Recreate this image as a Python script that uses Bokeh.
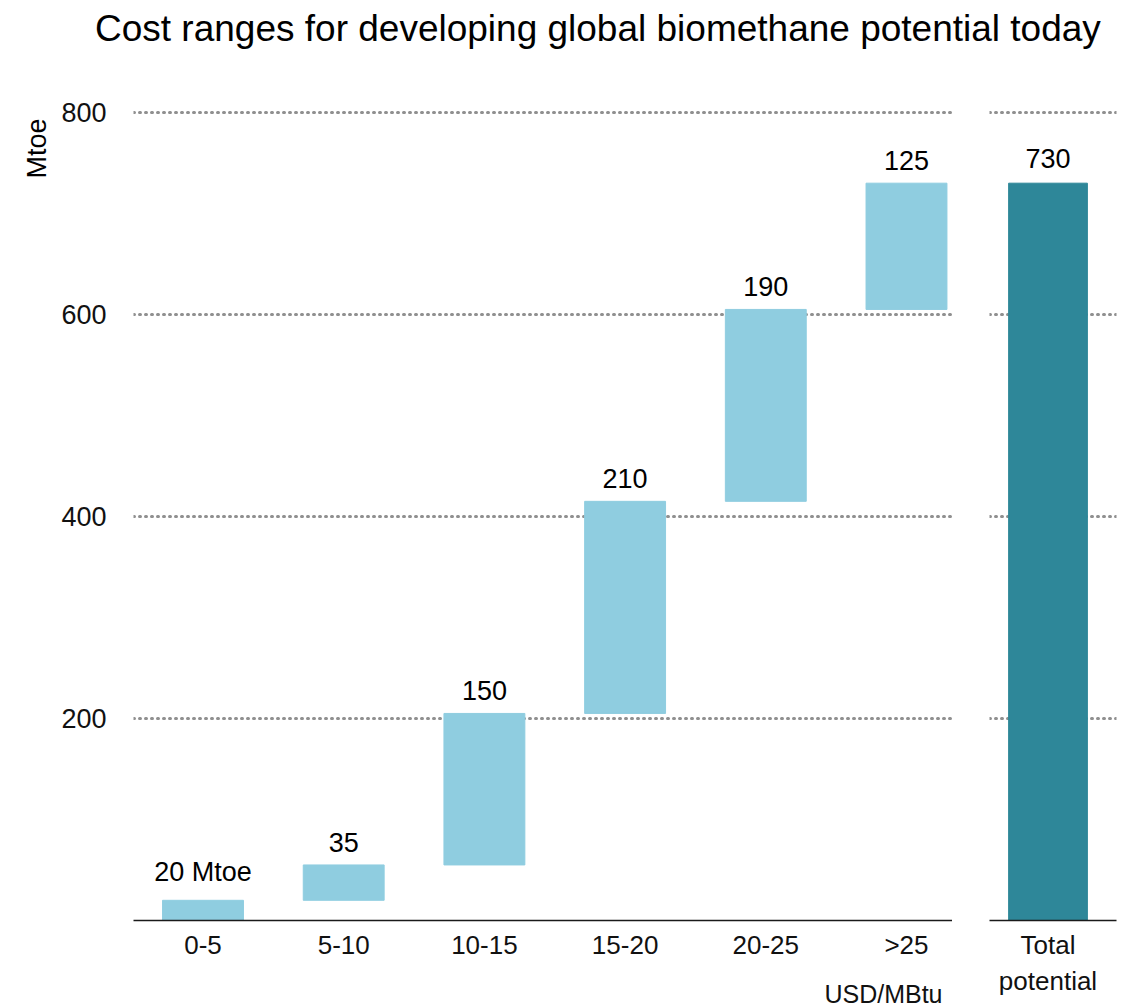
import numpy as np
from bokeh.plotting import figure
from bokeh.models import Range1d, FixedTicker, Title, Div, ColumnDataSource
from bokeh.layouts import row, column
from bokeh.core.properties import value
from bokeh.embed import file_html
from bokeh.resources import INLINE

# ---- data ----
categories = ["0-5", "5-10", "10-15", "15-20", "20-25", ">25"]
values = [20, 35, 150, 210, 190, 125]
value_labels = ["20 Mtoe", "35", "150", "210", "190", "125"]
total_category = "Total\npotential"
total_value = 730
y_ticks = [200, 400, 600, 800]
x_unit = "USD/MBtu"
y_unit = "Mtoe"
title_text = "Cost ranges for developing global biomethane potential today"

# ---- style ----
FONT = "Liberation Sans"
LIGHT = "#8fcde0"
DARK = "#2e8799"
GRID = "#909090"
YMAX = 817.8

tops = np.cumsum(values)
bottoms = tops - np.array(values)
xs = list(range(len(categories)))
src = ColumnDataSource(dict(x=xs, bottom=bottoms, top=tops, label=value_labels))


def style(p, ticks, labels):
    p.outline_line_color = None
    p.xgrid.visible = False
    p.ygrid.ticker = FixedTicker(ticks=y_ticks)
    p.ygrid.grid_line_color = GRID
    p.ygrid.grid_line_width = 3
    p.ygrid.grid_line_dash = "1 5"
    p.ygrid.grid_line_cap = "round"
    p.xaxis.ticker = FixedTicker(ticks=ticks)
    p.xaxis.major_label_overrides = {t: l for t, l in zip(ticks, labels)}
    p.xaxis.major_tick_line_color = None
    p.xaxis.minor_tick_line_color = None
    p.xaxis.axis_line_color = "#1a1a1a"
    p.xaxis.axis_line_width = 1.5
    p.xaxis.major_label_text_font = FONT
    p.xaxis.major_label_text_font_size = "26px"
    p.xaxis.major_label_text_color = "#111111"
    p.xaxis.major_label_standoff = 3


left = figure(frame_width=819, frame_height=826,
              x_range=Range1d(-0.494, 5.327), y_range=Range1d(0, YMAX),
              output_backend="svg", toolbar_location=None,
              min_border_left=133, min_border_right=0,
              min_border_top=40, min_border_bottom=80)
left.vbar(x="x", bottom="bottom", top="top", width=0.575, color=LIGHT, source=src)
left.text(x="x", y="top", text="label", source=src, y_offset=-13,
          text_align="center", text_baseline="bottom",
          text_font=value(FONT), text_font_size="27px", text_color="#000000")
style(left, xs, categories)
left.xaxis.axis_label = " "
left.xaxis.axis_label_text_font_size = "7px"
left.xaxis.axis_label_standoff = 0
left.yaxis.ticker = FixedTicker(ticks=y_ticks)
left.yaxis.axis_line_color = None
left.yaxis.major_tick_line_color = None
left.yaxis.minor_tick_line_color = None
left.yaxis.major_label_text_font = FONT
left.yaxis.major_label_text_font_size = "27px"
left.yaxis.major_label_text_color = "#111111"
left.yaxis.major_label_standoff = 21
left.add_layout(Title(text=y_unit, align="right", text_font=FONT,
                      text_font_size="27px", text_font_style="normal",
                      text_color="#000000", offset=24, standoff=14), "left")
left.add_layout(Title(text=x_unit, align="right", text_font=FONT,
                      text_font_size="25px", text_font_style="normal",
                      text_color="#111111", offset=10), "below")

right = figure(frame_width=127, frame_height=826,
               x_range=Range1d(-0.416, 0.487), y_range=Range1d(0, YMAX),
               output_backend="svg", toolbar_location=None,
               min_border_left=37, min_border_right=8,
               min_border_top=40, min_border_bottom=80)
right.vbar(x=[0], bottom=[0], top=[total_value], width=0.56, color=DARK)
right.text(x=[0], y=[total_value], text=[str(total_value)], y_offset=-15,
           text_align="center", text_baseline="bottom",
           text_font=value(FONT), text_font_size="27px", text_color="#000000")
style(right, [0], [total_category])
right.yaxis.visible = False

title_div = Div(
    text=(f'<div style="font-family:\'{FONT}\';font-size:37px;line-height:37px;'
          f'white-space:nowrap;padding-left:95px;margin-top:10px;color:#000">'
          f'{title_text}</div>'),
    width=1124, height=54, margin=(0, 0, 0, 0))

layout = column(title_div, row(left, right, spacing=0), spacing=0)

with open("out.html", "w") as f:
    f.write(file_html(layout, INLINE))
